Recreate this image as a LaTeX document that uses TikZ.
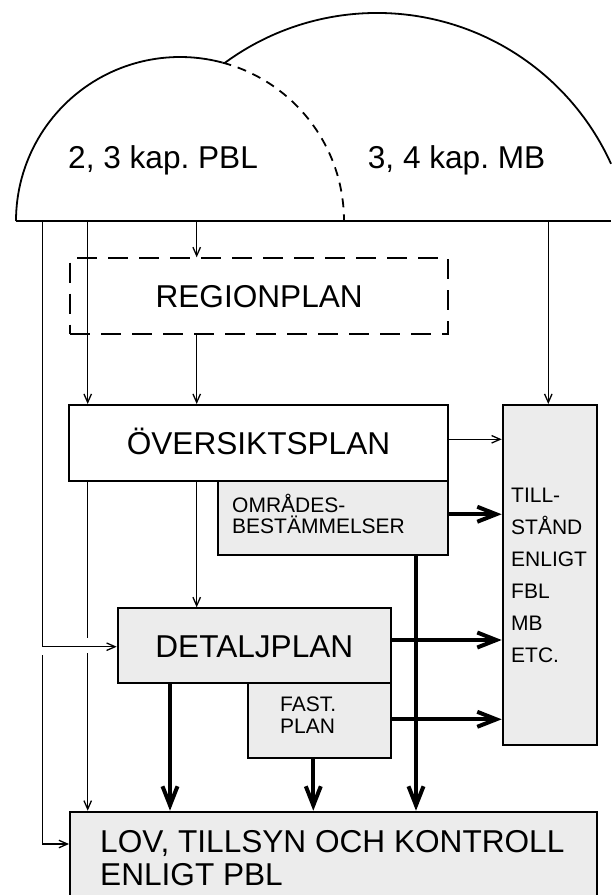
\documentclass[tikz,border=0pt]{standalone}
\usepackage{fontspec}
\setmainfont{Liberation Sans}
\usetikzlibrary{arrows.meta}
\frenchspacing
\definecolor{boxgray}{RGB}{236,236,236}
\newcommand\fbig{\fontsize{31.6}{32.7}\selectfont}
\newcommand\fsmall{\fontsize{21}{21}\selectfont}
\tikzset{
  boxst/.style={draw, line width=2pt, inner sep=0pt, anchor=north west, font=\fbig, text height=22.6pt, text depth=0pt},
  grayst/.style={fill=boxgray},
  lbl/.style={inner sep=0pt, anchor=base west, align=left},
  thinln/.style={line width=1.3pt},
  thinarr/.style={line width=1.3pt, -{Straight Barb[length=8.5pt,width=7.5pt]}},
  thickarr/.style={line width=4pt, -{Straight Barb[length=19pt,width=15pt]}},
  domeln/.style={line width=1.8pt},
}
\begin{document}
\frenchspacing
\begin{tikzpicture}[x=1pt,y=-1pt]
\useasboundingbox (0,0) rectangle (611,895);
% domes
\draw[domeln] (16,221) -- (611,221);
\draw[domeln] (16,221) arc[start angle=180, end angle=75, radius=164pt] coordinate (ix);
\draw[domeln, dash pattern=on 9pt off 7pt] (ix) arc[start angle=75, end angle=0, radius=164pt];
\draw[domeln] (224.5,63.1) arc[start angle=126.4, end angle=24.4, radius=257pt];
\node[lbl, font=\fbig] (pbl) at (68,168) {2, 3 kap. PBL};
\node[lbl, font=\fbig] (mb) at (367.7,168) {3, 4 kap. MB};
% baseline coordinates
\coordinate (b1) at (42.7,220.7);
\coordinate (b2) at (87.7,220.7);
\coordinate (b3) at (196.7,220.7);
\coordinate (b4) at (548.3,220.7);
\coordinate (t1) at (416,0);
\coordinate (t2) at (170,0);
\coordinate (t3) at (313.3,0);
% boxes
\node[boxst, dash pattern=on 20pt off 11pt, minimum width=378.3pt, minimum height=76pt] (rp) at (69,257.3) {REGIONPLAN};
\node[boxst, fill=white, minimum width=378.4pt, minimum height=76pt] (ov) at (68.3,404) {ÖVERSIKTSPLAN};
\node[boxst, grayst, minimum width=230pt, minimum height=74.3pt] (ob) at (216.7,480) {};
\node[boxst, grayst, minimum width=273.3pt, minimum height=75pt] (dp) at (116.7,607.3) {DETALJPLAN};
\node[boxst, grayst, minimum width=143.3pt, minimum height=75pt] (fp) at (246.7,682.3) {};
\node[boxst, grayst, minimum width=94.3pt, minimum height=340pt] (till) at (501.7,404) {};
\node[boxst, grayst, minimum width=526.7pt, minimum height=88pt] (lov) at (69,810.7) {};
% texts (anchor base = last line's baseline)
\node[lbl, font=\fsmall] (obt) at (232,533.3) {OMRÅDES-\\BESTÄMMELSER};
\node[lbl, font=\fontsize{21}{21.6}\selectfont] (fpt) at (280,733.3) {FAST.\\PLAN};
\node[lbl, font=\fontsize{21}{32}\selectfont] (tillt) at (511,662.7) {TILL-\\STÅND\\ENLIGT\\FBL\\MB\\ETC.};
\node[lbl, font=\fbig] (lovt) at (100,885) {LOV, TILLSYN OCH KONTROLL\\ENLIGT PBL};
% thin connectors
\coordinate (c1) at (42.7,646.7);
\coordinate (c2) at (42.7,655);
\coordinate (c3) at (42.7,844);
\draw[thinarr] (b1) -- (c1) -- (c1 -| dp.west);
\draw[thinarr] (c2) -- (c3) -- (c3 -| lov.west);
\coordinate (g1) at (87.7,638);
\coordinate (g2) at (87.7,653);
\draw[thinarr] (b2) -- (b2 |- ov.north);
\draw[thinln] (ov.south -| b2) -- (g1);
\draw[thinarr] (g2) -- (b2 |- lov.north);
\draw[thinarr] (b3) -- (b3 |- rp.north);
\draw[thinarr] (rp.south -| b3) -- (b3 |- ov.north);
\draw[thinarr] (ov.south -| b3) -- (b3 |- dp.north);
\draw[thinarr] (b4) -- (b4 |- till.north);
\draw[thinarr] ([yshift=3.7pt]ov.east) -- ([yshift=3.7pt]ov.east -| till.west);
% thick connectors
\draw[thickarr] ([yshift=3.9pt]ob.east) -- ([yshift=3.9pt]ob.east -| till.west);
\draw[thickarr] ([yshift=5.8pt]dp.east) -- ([yshift=5.8pt]dp.east -| till.west);
\draw[thickarr] ([yshift=1.5pt]fp.east) -- ([yshift=1.5pt]fp.east -| till.west);
\draw[thickarr] (ob.south -| t1) -- (lov.north -| t1);
\draw[thickarr] (dp.south -| t2) -- (lov.north -| t2);
\draw[thickarr] (fp.south -| t3) -- (lov.north -| t3);
\end{tikzpicture}
\end{document}
